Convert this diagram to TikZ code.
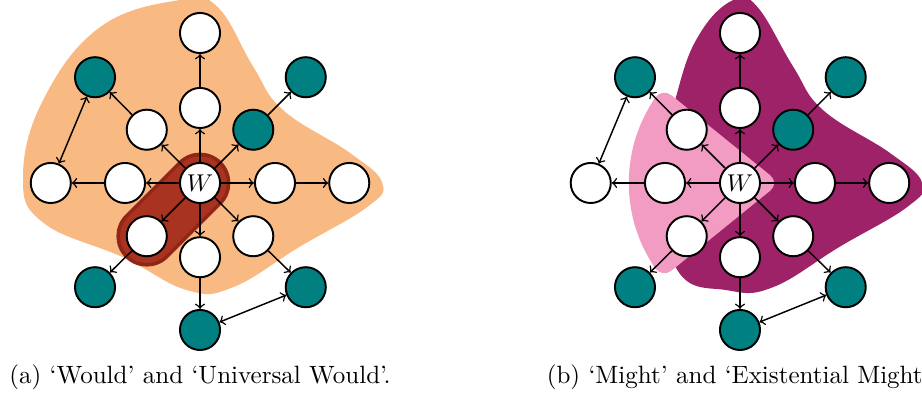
\documentclass[tikz,border=0pt]{standalone}
\usepackage{xcolor}
\usepackage{tikz}
\usetikzlibrary{arrows,shapes}

\definecolor{wouldorange}{RGB}{249,185,131}
\definecolor{wouldred}{RGB}{168,51,32}
\definecolor{wouldredline}{RGB}{146,38,22}
\definecolor{mightdark}{RGB}{158,34,104}
\definecolor{mightpink}{RGB}{242,155,195}
\definecolor{worldteal}{RGB}{0,128,128}

\tikzset{
  world/.style={circle, draw, thick, fill=white, minimum size=16.5pt, inner sep=0pt},
  tworld/.style={world, fill=worldteal},
  rel/.style={semithick, ->},
  subcap/.style={anchor=base, font=\fontsize{10.3}{12}\selectfont}
}

\begin{document}
\begin{tikzpicture}[x=1.085cm, y=1.085cm]
\useasboundingbox (-2.667,-2.947) rectangle (9.627,2.44);

% (a) would
\fill[wouldorange] plot[smooth cycle, tension=0.7] coordinates {
  (-0.27,2.44) (-1.33,2.08) (-2.09,1.11) (-2.36,0.08) (-2.09,-0.53)
  (-1.03,-0.99) (-0.17,-1.43) (0.44,-1.39) (1.33,-0.85) (2.23,-0.32)
  (2.43,0) (2,0.4) (1.11,0.97) (0.71,1.55) (0.23,2.35)};
\draw[line width=25pt, line cap=round, wouldredline] (0,0) -- (-0.71,-0.71);
\draw[line width=22pt, line cap=round, wouldred] (0,0) -- (-0.71,-0.71);

 \node[world] (w) at (0,0) {$W$};

 \node[world] (up1) at (0,1) {};
 \node[world] (up2) at (0,2) {};
 \node[tworld] (ur1) at (0.71,0.71) {};
 \node[tworld] (ur2) at (1.41,1.41) {};
 \node[world] (rt1) at (1,0) {};
 \node[world] (rt2) at (1.99,0) {};
 \node[world] (dr1) at (0.71,-0.71) {};
 \node[tworld] (dr2) at (1.41,-1.39) {};
 \node[world] (dn1) at (0,-0.99) {};
 \node[tworld] (dn2) at (0,-1.96) {};
 \node[world] (dl1) at (-0.71,-0.71) {};
 \node[tworld] (dl2) at (-1.40,-1.39) {};
 \node[world] (lt1) at (-1,0) {};
 \node[world] (lt2) at (-1.99,0) {};
 \node[world] (ul1) at (-0.71,0.71) {};
 \node[tworld] (ul2) at (-1.40,1.41) {};

\draw[rel] (w) -- (up1);
\draw[rel] (w) -- (ur1);
\draw[rel] (w) -- (rt1);
\draw[rel] (w) -- (dr1);
\draw[rel] (w) -- (dn1);
\draw[rel] (w) -- (dl1);
\draw[rel] (w) -- (lt1);
\draw[rel] (w) -- (ul1);
\draw[rel] (up1) -- (up2);
\draw[rel] (ur1) -- (ur2);
\draw[rel] (rt1) -- (rt2);
\draw[rel] (dr1) -- (dr2);
\draw[rel] (dn1) -- (dn2);
\draw[rel] (dl1) -- (dl2);
\draw[rel] (lt1) -- (lt2);
\draw[rel] (ul1) -- (ul2);
\draw[rel, <->] (ul2) -- (lt2);
\draw[rel, <->] (dn2) -- (dr2);

\node[subcap] (capa) at (0,-2.68) {(a) `Would' and `Universal Would'.};

% (b) might
\begin{scope}[shift={(7.2,0)}]
\fill[mightdark] plot[smooth cycle, tension=0.7] coordinates {
  (-0.09,2.44) (-0.53,2.0) (-0.83,1.23) (-1.07,0) (-0.83,-1.17)
  (-0.17,-1.43) (0.44,-1.39) (1.33,-0.85) (2.23,-0.32)
  (2.43,0) (2,0.4) (1.11,0.97) (0.71,1.55) (0.23,2.35)};
\fill[mightpink, rounded corners=5pt, shift={(0.53,0)}] (0,0) -- (141:2.02)
  -- (151:2.02) -- (161:2.02) -- (170:2.02) -- (180:2.02) -- (190:2.02)
  -- (199:2.02) -- (209:2.02) -- (219:2.02) -- cycle;

 \node[world] (mw) at (0,0) {$W$};

 \node[world] (mup1) at (0,1) {};
 \node[world] (mup2) at (0,2) {};
 \node[tworld] (mur1) at (0.71,0.71) {};
 \node[tworld] (mur2) at (1.41,1.41) {};
 \node[world] (mrt1) at (1,0) {};
 \node[world] (mrt2) at (1.99,0) {};
 \node[world] (mdr1) at (0.71,-0.71) {};
 \node[tworld] (mdr2) at (1.41,-1.39) {};
 \node[world] (mdn1) at (0,-0.99) {};
 \node[tworld] (mdn2) at (0,-1.96) {};
 \node[world] (mdl1) at (-0.71,-0.71) {};
 \node[tworld] (mdl2) at (-1.40,-1.39) {};
 \node[world] (mlt1) at (-1,0) {};
 \node[world] (mlt2) at (-1.99,0) {};
 \node[world] (mul1) at (-0.71,0.71) {};
 \node[tworld] (mul2) at (-1.40,1.41) {};

\draw[rel] (mw) -- (mup1);
\draw[rel] (mw) -- (mur1);
\draw[rel] (mw) -- (mrt1);
\draw[rel] (mw) -- (mdr1);
\draw[rel] (mw) -- (mdn1);
\draw[rel] (mw) -- (mdl1);
\draw[rel] (mw) -- (mlt1);
\draw[rel] (mw) -- (mul1);
\draw[rel] (mup1) -- (mup2);
\draw[rel] (mur1) -- (mur2);
\draw[rel] (mrt1) -- (mrt2);
\draw[rel] (mdr1) -- (mdr2);
\draw[rel] (mdn1) -- (mdn2);
\draw[rel] (mdl1) -- (mdl2);
\draw[rel] (mlt1) -- (mlt2);
\draw[rel] (mul1) -- (mul2);
\draw[rel, <->] (mul2) -- (mlt2);
\draw[rel, <->] (mdn2) -- (mdr2);

\node[subcap] (capb) at (0,-2.68) {(b) `Might' and `Existential Might'.};
\end{scope}

\end{tikzpicture}
\end{document}
